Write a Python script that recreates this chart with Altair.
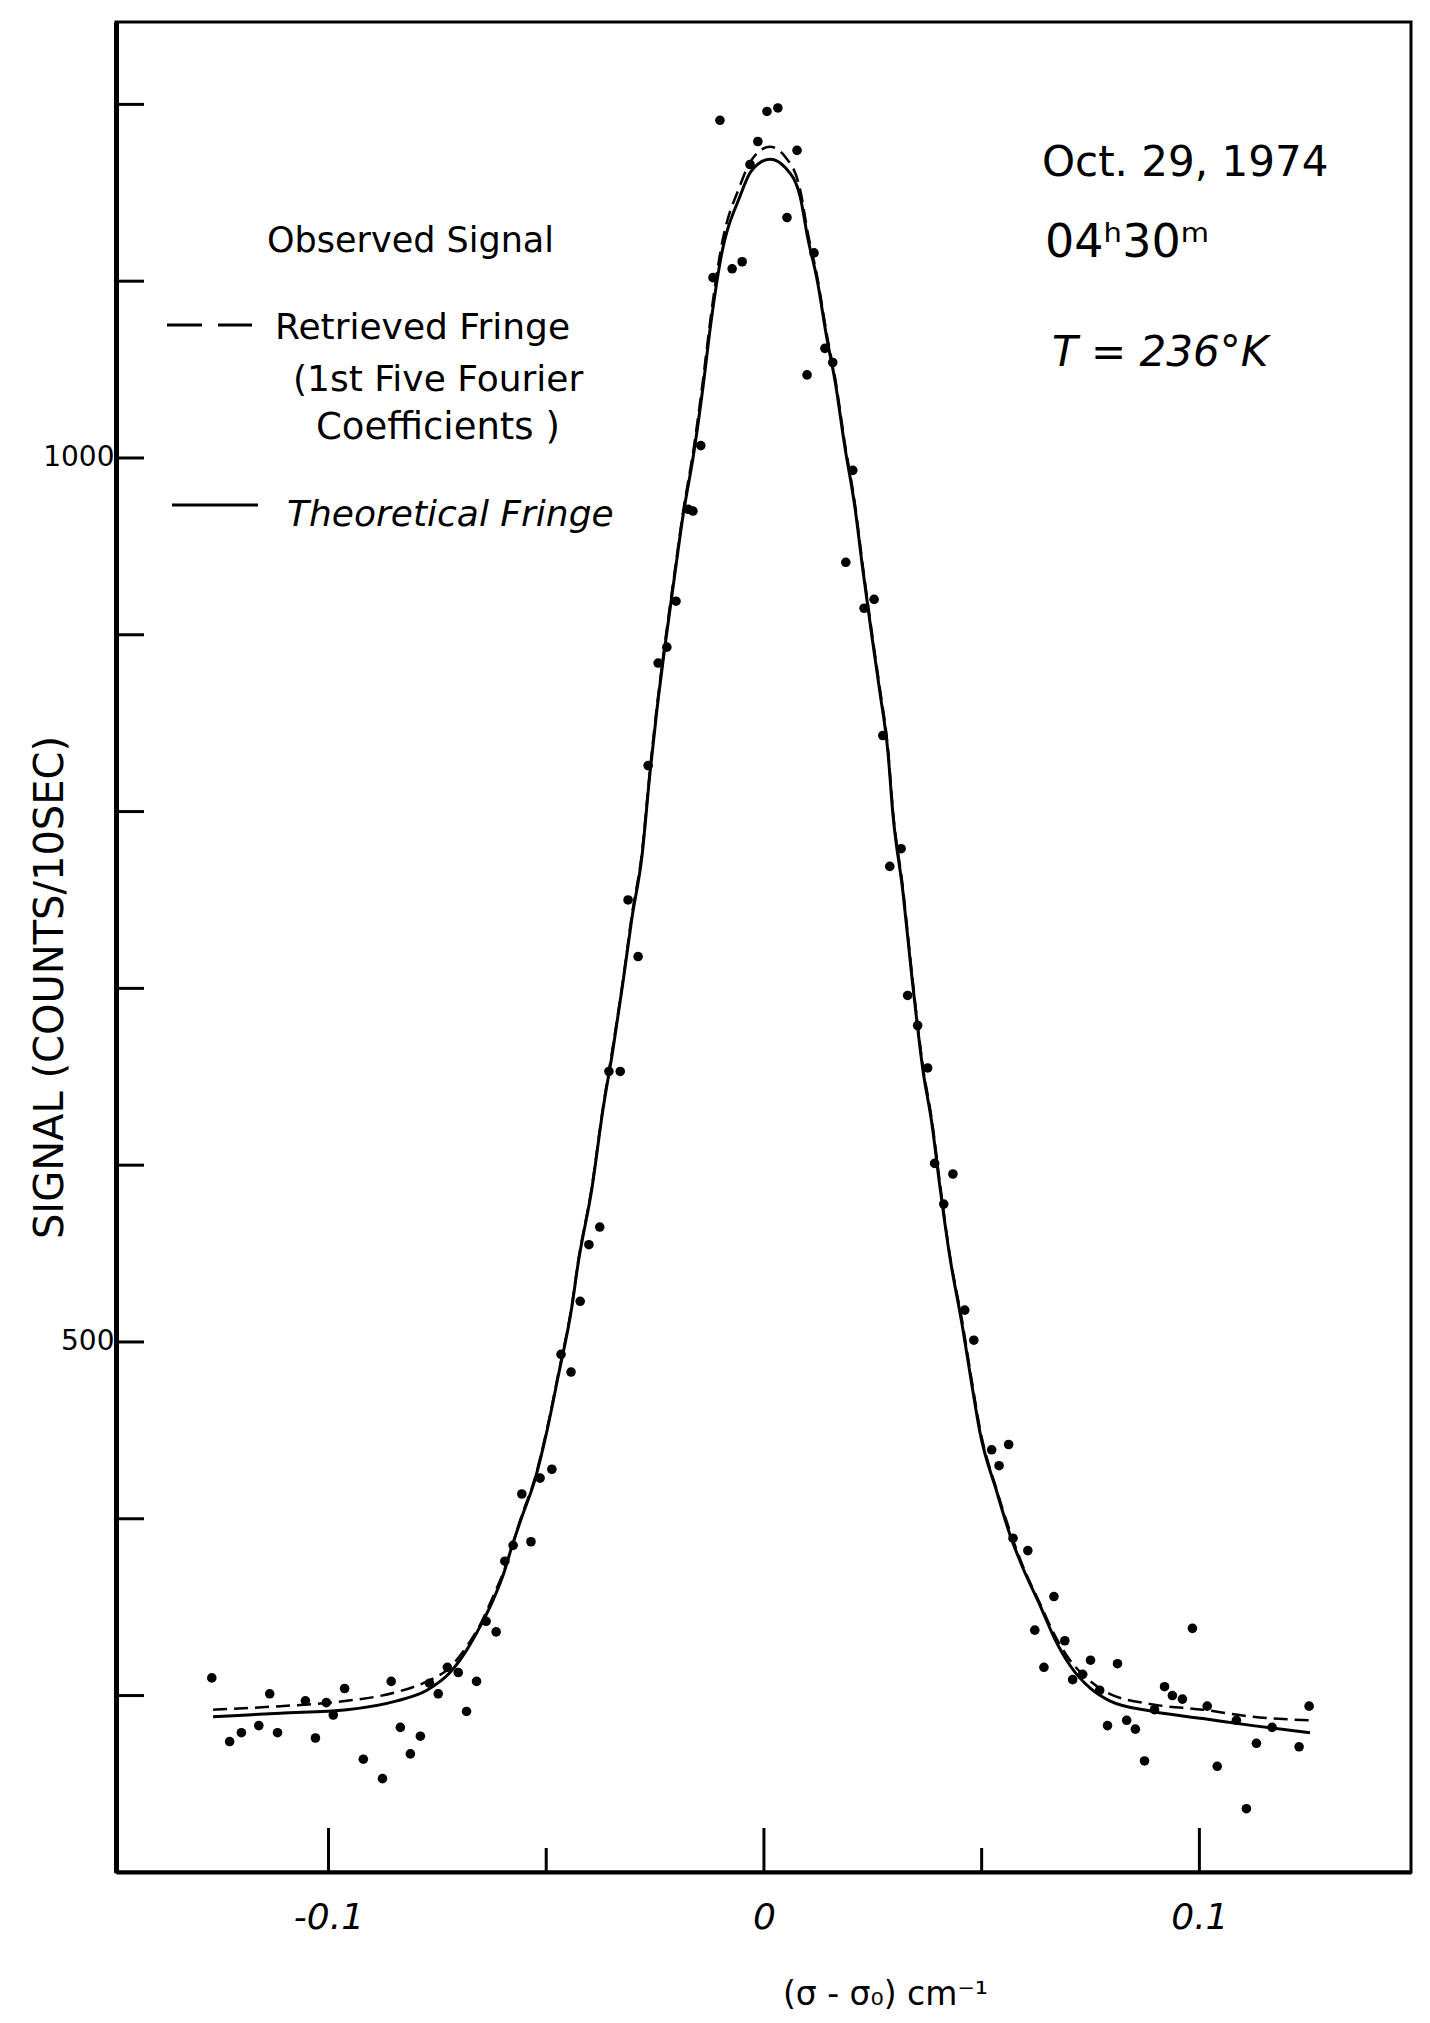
import altair as alt
import pandas as pd

# ---------------- data ----------------
obs_x = [-0.1268, -0.1227, -0.1200, -0.1160, -0.1135, -0.1117, -0.1053, -0.1030, -0.1005,
         -0.0989, -0.0963, -0.0920, -0.0876, -0.0856, -0.0835, -0.0812, -0.0789, -0.0768,
         -0.0748, -0.0727, -0.0702, -0.0683, -0.0660, -0.0638, -0.0615, -0.0595,
         -0.0576, -0.0556, -0.0535, -0.0514, -0.0487, -0.0466, -0.0443, -0.0422, -0.0402,
         -0.0377, -0.0356, -0.0330, -0.0312, -0.0289, -0.0266, -0.0243, -0.0223, -0.0202,
         -0.0174, -0.0163, -0.0145, -0.0117, -0.0101, -0.0073, -0.0050, -0.0032, -0.0014,
         0.0007, 0.0032, 0.0053, 0.0076, 0.0099, 0.0115, 0.0140, 0.0158, 0.0188, 0.0204,
         0.0230, 0.0253, 0.0273, 0.0289, 0.0315, 0.0330, 0.0353, 0.0376, 0.0392, 0.0413,
         0.0434, 0.0461, 0.0482, 0.0523, 0.0540, 0.0562, 0.0572, 0.0606, 0.0622, 0.0643,
         0.0666, 0.0691, 0.0709, 0.0732, 0.0750, 0.0771, 0.0789, 0.0812, 0.0833, 0.0853,
         0.0874, 0.0897, 0.0920, 0.0938, 0.0961, 0.0984, 0.1018, 0.1041, 0.1085, 0.1108,
         0.1131, 0.1167, 0.1229, 0.1252]
obs_y = [310, 274, 279, 283, 301, 279, 297, 276, 296,
         289, 304, 264, 253, 308, 282, 267, 277, 307,
         301, 316, 313, 291, 308, 342, 336, 376,
         385, 414, 387, 423, 428, 493, 483, 523, 555,
         565, 653, 653, 750, 718, 826, 884, 893, 919,
         971, 970, 1007, 1102, 1191, 1107, 1111, 1166, 1179,
         1196, 1198, 1136, 1174, 1047, 1116, 1062, 1054, 941, 993,
         915, 920, 843, 769, 779, 696, 679, 655, 601, 578,
         595, 518, 501, 439, 430, 442, 389, 382, 337, 316,
         356, 331, 309, 312, 320, 303, 283, 318, 286, 281,
         263, 292, 305, 300, 298, 338, 294, 260, 286, 236,
         273, 282, 271, 294]

theo_x = [-0.1265, -0.1111, -0.0958, -0.0843, -0.0774, -0.0721, -0.0682, -0.0652, -0.0622,
          -0.0595, -0.0583, -0.0556, -0.0526, -0.0498, -0.0473, -0.0441, -0.0427, -0.0395,
          -0.0370, -0.0347, -0.0324, -0.0303, -0.0280, -0.0262, -0.0246, -0.0227, -0.0207,
          -0.0186, -0.0161, -0.0140, -0.0122, -0.0099, -0.0055, -0.0030, 0.0014, 0.0050,
          0.0083, 0.0101, 0.0122, 0.0145, 0.0163, 0.0186, 0.0209, 0.0227, 0.0248, 0.0266,
          0.0285, 0.0296, 0.0319, 0.0340, 0.0365, 0.0386, 0.0404, 0.0427, 0.0455, 0.0478,
          0.0496, 0.0535, 0.0565, 0.0595, 0.0634, 0.0668, 0.0703, 0.0750, 0.0794, 0.0893,
          0.1008, 0.1123, 0.1254]
theo_y = [288, 290, 292, 297, 303, 313, 326, 339, 354,
          371, 381, 401, 422, 450, 480, 520, 544, 587,
          631, 665, 703, 740, 775, 821, 857, 894, 930,
          967, 1003, 1040, 1076, 1113, 1148, 1162, 1169, 1164,
          1148, 1124, 1101, 1067, 1044, 1006, 972, 937, 899, 868,
          833, 799, 755, 706, 654, 623, 588, 548, 510, 475,
          449, 415, 391, 372, 351, 332, 317, 304, 297, 291,
          287, 283, 279]

retr_x = [-0.1265, -0.1111, -0.0958, -0.0843, -0.0774, -0.0721, -0.0682, -0.0652, -0.0622,
          -0.0595, -0.0556, -0.0526, -0.0498, -0.0473, -0.0441, -0.0427, -0.0395, -0.0370,
          -0.0347, -0.0324, -0.0303, -0.0280, -0.0262, -0.0246, -0.0227, -0.0207, -0.0186,
          -0.0161, -0.0140, -0.0122, -0.0099, -0.0055, -0.0030, 0.0014, 0.0050, 0.0083,
          0.0101, 0.0122, 0.0145, 0.0163, 0.0186, 0.0209, 0.0227, 0.0248, 0.0266, 0.0285,
          0.0296, 0.0319, 0.0340, 0.0365, 0.0386, 0.0404, 0.0427, 0.0455, 0.0478, 0.0496,
          0.0535, 0.0565, 0.0595, 0.0634, 0.0668, 0.0703, 0.0750, 0.0794, 0.0893, 0.1008,
          0.1123, 0.1254]
retr_y = [292, 294, 297, 302, 308, 316, 328, 340, 356,
          372, 402, 423, 451, 481, 521, 545, 588, 632,
          667, 704, 742, 777, 823, 859, 896, 932, 969,
          1006, 1044, 1080, 1118, 1154, 1168, 1176, 1170, 1152,
          1127, 1103, 1069, 1046, 1008, 974, 939, 901, 870, 835,
          801, 757, 708, 656, 625, 590, 549, 512, 477, 451,
          416, 393, 373, 352, 334, 320, 308, 301, 295, 292,
          288, 286]

y_tick_values = [300, 400, 500, 600, 700, 800, 900, 1000, 1100, 1200]
y_label_values = [500, 1000]
x_major_ticks = [-0.1, 0.0, 0.1]
x_minor_ticks = [-0.05, 0.05]
x_tick_labels = ["-0.1", "0", "0.1"]

legend_texts = ["Observed Signal", "Retrieved Fringe", "(1st Five Fourier",
                "Coefficients )", "Theoretical Fringe"]
note_texts = ["Oct. 29, 1974", "04\u02b030\u1d50", "T = 236\u00b0K"]
x_title = "(\u03c3 - \u03c3\u2080) cm\u207b\u00b9"
y_title = "SIGNAL (COUNTS/10SEC)"

# ---------------- chart ----------------
W, H = 1295, 1850
FONT = "DejaVu Sans"

xs = alt.Scale(domain=[-0.1488, 0.1486], nice=False, zero=False)
ys = alt.Scale(domain=[200.2, 1246.6], nice=False, zero=False)

label_expr = "'" + x_tick_labels[-1] + "'"
for v, l in reversed(list(zip(x_major_ticks[:-1], x_tick_labels[:-1]))):
    label_expr = f"abs(datum.value - ({v})) < 1e-6 ? '{l}' : {label_expr}"

x_axis = alt.Axis(values=x_major_ticks, labelExpr=label_expr, ticks=False, grid=False,
                  domainWidth=4, domainColor="black", labelFontSize=36, labelFont=FONT,
                  labelColor="black", labelPadding=28, labelFontStyle="italic",
                  title=x_title, titleFont=FONT, titleFontSize=33, titleFontWeight="normal",
                  titleColor="black", titleX=769, titleY=122, titleAlign="center",
                  titleBaseline="middle")
y_axis = alt.Axis(values=y_label_values, format="d", ticks=False, grid=False,
                  domainWidth=5, domainColor="black", labelFontSize=28, labelFont=FONT,
                  labelColor="black", labelPadding=2,
                  title=y_title, titleFont=FONT, titleFontSize=40, titleFontWeight="normal",
                  titleColor="black", titleAngle=270, titleX=-66, titleY=965,
                  titleAlign="center", titleBaseline="middle")

obs_df = pd.DataFrame({"x": obs_x, "y": obs_y})
theo_df = pd.DataFrame({"x": theo_x, "y": theo_y})
retr_df = pd.DataFrame({"x": retr_x, "y": retr_y})

X = lambda f: alt.X(f, scale=xs, axis=x_axis)
Y = lambda f: alt.Y(f, scale=ys, axis=y_axis)

points = alt.Chart(obs_df).mark_circle(size=92, color="black", opacity=1).encode(
    x=X("x:Q"), y=Y("y:Q"))
theo = alt.Chart(theo_df).mark_line(color="black", strokeWidth=3, interpolate="monotone").encode(
    x=X("x:Q"), y=Y("y:Q"))
retr = alt.Chart(retr_df).mark_line(color="black", strokeWidth=2.5, strokeDash=[14, 7],
                                     interpolate="monotone").encode(
    x=X("x:Q"), y=Y("y:Q"))

yticks = alt.Chart(pd.DataFrame({"y": y_tick_values})).mark_rule(color="black", strokeWidth=3).encode(
    y=Y("y:Q"), x=alt.value(0), x2=alt.value(28))
xmajor = alt.Chart(pd.DataFrame({"x": x_major_ticks})).mark_rule(color="black", strokeWidth=3).encode(
    x=X("x:Q"), y=alt.value(H), y2=alt.value(H - 44))
xminor = alt.Chart(pd.DataFrame({"x": x_minor_ticks})).mark_rule(color="black", strokeWidth=3).encode(
    x=X("x:Q"), y=alt.value(H), y2=alt.value(H - 24))


def txt(s, px, py, size, style="normal"):
    return alt.Chart(pd.DataFrame({"t": [s]})).mark_text(
        align="left", baseline="middle", fontSize=size, font=FONT,
        fontStyle=style, color="black").encode(
        x=alt.value(px), y=alt.value(py), text="t:N")


def seg(px1, px2, py, dash=None):
    kw = {"color": "black", "strokeWidth": 3}
    if dash:
        kw["strokeDash"] = dash
    return alt.Chart(pd.DataFrame({"k": [0]})).mark_rule(**kw).encode(
        x=alt.value(px1), x2=alt.value(px2), y=alt.value(py))


annotations = [
    txt(legend_texts[0], 151, 219, 35),
    seg(51, 86, 303), seg(102, 136, 303),
    txt(legend_texts[1], 159, 306, 36),
    txt(legend_texts[2], 177, 358, 36),
    txt(legend_texts[3], 200, 406, 37),
    seg(56, 142, 483),
    txt(legend_texts[4], 171, 493, 36, "italic"),
    txt(note_texts[0], 926, 141, 42),
    txt(note_texts[1], 929, 221, 46),
    txt(note_texts[2], 936, 331, 42, "italic"),
]

chart = alt.layer(points, theo, retr, yticks, xmajor, xminor, *annotations).properties(
    width=W, height=H,
    padding={"left": 108, "top": 14, "right": 11, "bottom": 143},
    autosize=alt.AutoSizeParams(type="none"),
    background="white",
).configure_view(stroke="black", strokeWidth=3)

chart.save("out.html", embed_options={"renderer": "svg", "actions": False})
